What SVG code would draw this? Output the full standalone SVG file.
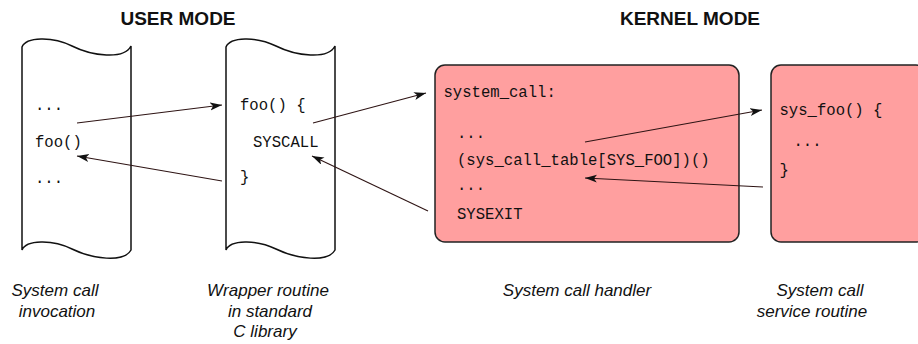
<svg xmlns="http://www.w3.org/2000/svg" width="918" height="344" viewBox="0 0 918 344">
  <defs>
    <style>
      .title { font-family: "Liberation Sans", Arial, sans-serif; font-weight: bold; font-size: 19px; fill: #111; }
      .code { font-family: "Liberation Mono", "Courier New", monospace; font-size: 15.6px; fill: #111; }
      .cap { font-family: "Liberation Sans", Arial, sans-serif; font-style: italic; font-size: 17px; fill: #111; text-anchor: middle; }
      .tape { fill: #fff; stroke: #111; stroke-width: 1.5; }
      .kbox { fill: #ff9f9f; stroke: #222; stroke-width: 1.5; }
      .conn { stroke: #2e1414; stroke-width: 1.1; fill: none; marker-end: url(#arr); }
    </style>
    <marker id="arr" markerUnits="userSpaceOnUse" markerWidth="14" markerHeight="10" refX="12" refY="4" orient="auto">
      <path d="M0,0 L12,4 L0,8 L3,4 Z" fill="#111"/>
    </marker>
    <path id="tapeShape" d="M22,47 C26,37 52,36 72,46 C92,56 124,60 131,46 L131,250 C124,263 92,259 72,249 C52,239 26,240 22,250 Z"/>
  </defs>

  <text class="title" x="178" y="25" text-anchor="middle">USER MODE</text>
  <text class="title" x="690" y="25" text-anchor="middle">KERNEL MODE</text>

  <g id="invocation">
    <use href="#tapeShape" class="tape"/>
    <text class="code" x="35" y="110">...</text>
    <text class="code" x="35" y="147">foo()</text>
    <text class="code" x="35" y="183">...</text>
  </g>

  <g id="wrapper">
    <use href="#tapeShape" class="tape" transform="translate(204,0)"/>
    <text class="code" x="240" y="110">foo() {</text>
    <text class="code" x="253" y="147">SYSCALL</text>
    <text class="code" x="240" y="182">}</text>
  </g>

  <g id="handler">
    <rect class="kbox" x="435" y="65" width="304" height="177" rx="10" ry="10"/>
    <text class="code" x="443.5" y="97">system_call:</text>
    <text class="code" x="457" y="138">...</text>
    <text class="code" x="457" y="165">(sys_call_table[SYS_FOO])()</text>
    <text class="code" x="457" y="190">...</text>
    <text class="code" x="457" y="219">SYSEXIT</text>
  </g>

  <g id="service">
    <rect class="kbox" x="771" y="65" width="155" height="177" rx="10" ry="10"/>
    <text class="code" x="779.5" y="115">sys_foo() {</text>
    <text class="code" x="793.5" y="146">...</text>
    <text class="code" x="779.5" y="175">}</text>
  </g>

  <g id="connectors">
    <line class="conn" x1="77" y1="123" x2="222" y2="105"/>
    <line class="conn" x1="222" y1="181" x2="77" y2="156"/>
    <line class="conn" x1="313" y1="123" x2="426" y2="93"/>
    <line class="conn" x1="428" y1="211" x2="312" y2="156"/>
    <line class="conn" x1="585" y1="142" x2="762" y2="110"/>
    <line class="conn" x1="763" y1="187" x2="585" y2="178"/>
  </g>

  <g id="captions">
    <text class="cap" x="55" y="296">System call</text>
    <text class="cap" x="57" y="317">invocation</text>
    <text class="cap" x="268" y="296">Wrapper routine</text>
    <text class="cap" x="270" y="317">in standard</text>
    <text class="cap" x="265" y="337">C library</text>
    <text class="cap" x="577" y="296">System call handler</text>
    <text class="cap" x="820" y="296">System call</text>
    <text class="cap" x="812" y="317">service routine</text>
  </g>
</svg>
